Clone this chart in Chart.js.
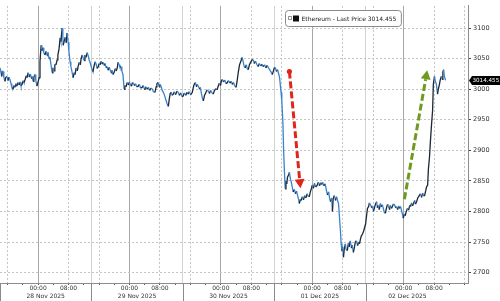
<!DOCTYPE html>
<html>
<head>
<meta charset="utf-8">
<script src="https://cdn.jsdelivr.net/npm/chart.js@4.4.1/dist/chart.umd.min.js"></script>
<style>
  body { margin: 0; background: #fff; }
  #wrap { width: 500px; height: 301px; }
</style>
</head>
<body>
<div id="wrap"><canvas id="ethChart" width="500" height="301"></canvas></div>
<script>
// hours counted from 27 Nov 2025 14:00
var hours = [
    0, 0.3, 0.45, 0.6, 0.8, 1.0, 1.3, 1.5, 1.8, 2.1,
    2.3, 2.6, 2.9, 3.1, 3.4, 3.6, 3.9, 4.2, 4.4, 4.7,
    5.0, 5.3, 5.5, 5.8, 6.1, 6.3, 6.6, 6.9, 7.1, 7.4,
    7.7, 8.0, 8.2, 8.4, 8.7, 8.9, 9.2, 9.4, 9.7, 10.0,
    10.3, 10.5, 10.8, 11.0, 11.3, 11.5, 11.8, 12.1, 12.4, 12.6,
    12.9, 13.1, 13.4, 13.7, 13.9, 14.2, 14.4, 14.7, 15.0, 15.2,
    15.5, 15.8, 16.0, 16.3, 16.5, 16.6, 16.9, 17.1, 17.4, 17.6,
    17.9, 18.1, 18.4, 18.6, 18.9, 19.2, 19.5, 19.7, 20.0, 20.3,
    20.5, 20.8, 21.1, 21.3, 21.6, 21.9, 22.1, 22.3, 22.6, 22.9,
    23.2, 23.4, 23.7, 24.0, 24.2, 24.4, 24.7, 25.0, 25.3, 25.5,
    25.8, 26.0, 26.3, 26.6, 26.8, 27.1, 27.4, 27.6, 27.9, 28.1,
    28.4, 28.7, 28.9, 29.2, 29.4, 29.7, 30.0, 30.3, 30.5, 30.8,
    31.0, 31.3, 31.5, 31.8, 32.0, 32.3, 32.6, 32.8, 33.1, 33.4,
    33.7, 34.0, 34.2, 34.5, 34.8, 35.0, 35.3, 35.6, 35.9, 36.3,
    36.6, 36.9, 37.3, 37.6, 38.0, 38.3, 38.6, 39.0, 39.3, 39.7,
    40.0, 40.3, 40.7, 41.0, 41.2, 41.5, 41.8, 42.0, 42.3, 42.6,
    42.9, 43.2, 43.5, 43.9, 44.2, 44.5, 44.7, 45.0, 45.2, 45.5,
    45.8, 46.1, 46.5, 46.8, 47.1, 47.5, 47.8, 48.1, 48.4, 48.8,
    49.1, 49.4, 49.7, 50.1, 50.5, 50.8, 51.0, 51.3, 51.6, 51.8,
    52.1, 52.4, 52.6, 52.9, 53.2, 53.4, 53.7, 54.0, 54.4, 54.7,
    55.0, 55.3, 55.7, 56.0, 56.3, 56.7, 57.0, 57.3, 57.6, 57.9,
    58.1, 58.4, 58.7, 59.0, 59.4, 59.7, 60.0, 60.4, 60.7, 61.0,
    61.3, 61.6, 62.0, 62.3, 62.6, 62.9, 63.2, 63.6, 63.9, 64.1,
    64.4, 64.7, 64.9, 65.2, 65.5, 65.8, 66.2, 66.5, 66.8, 67.1,
    67.5, 67.8, 68.1, 68.5, 68.8, 69.1, 69.5, 69.8, 70.2, 70.5,
    70.8, 71.2, 71.5, 71.8, 72.1, 72.3, 72.6, 72.9, 73.1, 73.4,
    73.6, 73.8, 74.0, 74.3, 74.5, 74.7, 74.9, 75.1, 75.3, 75.5,
    75.8, 76.0, 76.3, 76.5, 76.8, 77.0, 77.3, 77.6, 77.9, 78.1,
    78.4, 78.6, 78.9, 79.1, 79.4, 79.7, 80.0, 80.3, 80.7, 80.9,
    81.2, 81.5, 81.8, 82.0, 82.3, 82.6, 82.9, 83.3, 83.6, 83.9,
    84.2, 84.5, 84.7, 85.0, 85.4, 85.7, 86.0, 86.3, 86.6, 86.8,
    87.1, 87.3, 87.5, 87.8, 88.1, 88.4, 88.6, 88.9, 89.1, 89.4,
    89.6, 89.8, 90.0, 90.2, 90.4, 90.7, 90.9, 91.2, 91.5, 91.7,
    92.0, 92.3, 92.5, 92.8, 93.1, 93.3, 93.6, 93.9, 94.2, 94.4,
    94.7, 94.9, 95.2, 95.5, 95.8, 96.0, 96.3, 96.5, 96.8, 97.0,
    97.3, 97.6, 97.8, 98.1, 98.4, 98.6, 98.9, 99.1, 99.3, 99.6,
    99.9, 100.1, 100.4, 100.7, 100.9, 101.2, 101.5, 101.8, 102.0, 102.3,
    102.5, 102.8, 103.1, 103.3, 103.6, 103.9, 104.1, 104.4, 104.7, 104.9,
    105.2, 105.5, 105.7, 105.9, 106.2, 106.4, 106.7, 107.0, 107.3, 107.6,
    107.8, 108.1, 108.3, 108.6, 108.9, 109.1, 109.4, 109.7, 110.1, 110.4,
    110.7, 111.0, 111.2, 111.5, 111.8, 112.0, 112.3, 112.5, 112.8, 113.0,
    113.3, 113.6, 113.8, 114.1, 114.3, 114.6, 114.9, 115.1, 115.4, 115.6,
    115.9, 116.1, 116.3, 116.5, 116.7, 117.0];
var prices = [
    3035, 3026, 3021, 3030, 3029, 3020, 3013, 3019, 3021, 3014,
    3020, 3016, 3009, 3004, 3000, 3006, 3003, 3009, 3005, 3011,
    3007, 3012, 3006, 3008, 3014, 3011, 3016, 3022, 3019, 3027,
    3020, 3025, 3018, 3021, 3013, 3020, 3024, 3015, 3005, 3012,
    3019, 3045, 3072, 3063, 3068, 3060, 3056, 3062, 3055, 3060,
    3050, 3052, 3040, 3027, 3035, 3030, 3041, 3040, 3048, 3056,
    3066, 3084, 3078, 3100, 3088, 3072, 3080, 3085, 3076, 3092,
    3077, 3062, 3045, 3038, 3029, 3019, 3027, 3024, 3035, 3030,
    3037, 3044, 3040, 3050, 3056, 3050, 3047, 3056, 3052, 3060,
    3054, 3048, 3043, 3036, 3032, 3029, 3038, 3045, 3040, 3034,
    3037, 3042, 3040, 3046, 3041, 3044, 3039, 3042, 3035, 3037,
    3031, 3036, 3032, 3027, 3031, 3024, 3028, 3034, 3030, 3035,
    3044, 3040, 3036, 3037, 3030, 3024, 3000, 3006, 3004, 3011,
    3007, 3012, 3008, 3005, 3011, 3010, 3006, 3009, 3004, 3005,
    3008, 3002, 3003, 3006, 2999, 3004, 3000, 3003, 2998, 3002,
    3000, 2996, 2995, 3004, 3009, 3011, 3004, 3008, 3005, 2998,
    2995, 2990, 2984, 2976, 2972, 2986, 2993, 2995, 2990, 2992,
    2996, 2991, 2997, 2995, 2990, 2994, 2988, 2989, 2994, 2990,
    2995, 2992, 2996, 2991, 2995, 3004, 3008, 3011, 3004, 3008,
    3005, 3000, 3003, 2993, 2984, 2981, 2990, 2994, 2999, 2997,
    2993, 2998, 2994, 2992, 2998, 3001, 2999, 3005, 3010, 3006,
    3013, 3016, 3012, 3015, 3009, 3011, 3014, 3010, 3013, 3008,
    3011, 3006, 3003, 3015, 3029, 3040, 3045, 3052, 3044, 3038,
    3035, 3040, 3034, 3032, 3040, 3044, 3048, 3048, 3042, 3046,
    3040, 3037, 3042, 3038, 3041, 3037, 3040, 3035, 3039, 3035,
    3032, 3028, 3024, 3030, 3036, 3035, 3029, 3032, 3027, 3020,
    3008, 2995, 2981, 2944, 2896, 2864, 2837, 2850, 2845, 2856,
    2860, 2864, 2852, 2848, 2838, 2832, 2836, 2829, 2833, 2827,
    2820, 2813, 2820, 2818, 2824, 2819, 2826, 2822, 2829, 2825,
    2824, 2832, 2838, 2843, 2838, 2846, 2840, 2843, 2848, 2842,
    2847, 2844, 2848, 2842, 2845, 2835, 2827, 2832, 2820, 2816,
    2822, 2800, 2821, 2826, 2818, 2824, 2819, 2813, 2795, 2768,
    2747, 2735, 2742, 2725, 2738, 2747, 2738, 2736, 2748, 2742,
    2752, 2740, 2745, 2733, 2742, 2750, 2752, 2744, 2750, 2747,
    2756, 2760, 2763, 2768, 2775, 2779, 2795, 2805, 2808, 2814,
    2811, 2806, 2809, 2800, 2808, 2812, 2816, 2806, 2810, 2803,
    2813, 2808, 2811, 2804, 2799, 2797, 2806, 2812, 2808, 2803,
    2810, 2805, 2809, 2812, 2811, 2806, 2808, 2803, 2809, 2805,
    2808, 2800, 2795, 2789, 2796, 2793, 2800, 2805, 2802, 2810,
    2808, 2814, 2809, 2813, 2818, 2812, 2816, 2822, 2826, 2829,
    2823, 2830, 2826, 2826, 2834, 2840, 2843, 2869, 2890, 2912,
    2940, 2965, 3008, 3021, 3014, 3008, 2992, 3000, 3008, 3015,
    3021, 3016, 3028, 3032, 3021, 3014.455];
var yTicks = [2700, 2750, 2800, 2850, 2900, 2950, 3000, 3050, 3100];
var dayLabels = ['28 Nov 2025', '29 Nov 2025', '30 Nov 2025', '01 Dec 2025', '02 Dec 2025'];
var dayLabelHours = [12, 36, 60, 84, 107];
var bandEdges = [0, 24, 48, 72, 96];
var lastPrice = 3014.455;
var seriesName = 'Ethereum - Last Price 3014.455';
var redArrow = [[76.0, 3029], [78.9, 2838]];
var greenArrow = [[106.2, 2820], [112.2, 3031]];

var FONT = 'DejaVu Sans';

function hourOfDay(h) {
    return ((Math.round(h) + 14) % 24 + 24) % 24;
}

// 4h tick marks plus the band separators
var xTickHours = [];
for (var t = 2; t <= 122; t += 4) xTickHours.push(t);
bandEdges.slice(1).forEach(function (b) { xTickHours.push(b); });
xTickHours.sort(function (a, b) { return a - b; });

var points = hours.map(function (h, i) { return { x: h, y: prices[i] }; });

function drawArrow(ctx, x0, y0, x1, y1, color, dot) {
    var ang = Math.atan2(y1 - y0, x1 - x0);
    var headLen = 9, headW = 5;
    var bx = x1 - Math.cos(ang) * headLen;
    var by = y1 - Math.sin(ang) * headLen;
    ctx.save();
    ctx.strokeStyle = color;
    ctx.fillStyle = color;
    ctx.lineWidth = 3;
    ctx.setLineDash([7, 3]);
    ctx.beginPath();
    ctx.moveTo(x0, y0);
    ctx.lineTo(bx, by);
    ctx.stroke();
    ctx.setLineDash([]);
    ctx.beginPath();
    ctx.moveTo(x1, y1);
    ctx.lineTo(bx + Math.sin(ang) * headW, by - Math.cos(ang) * headW);
    ctx.lineTo(bx - Math.sin(ang) * headW, by + Math.cos(ang) * headW);
    ctx.closePath();
    ctx.fill();
    if (dot) {
        ctx.beginPath();
        ctx.arc(x0, y0, 2.6, 0, Math.PI * 2);
        ctx.fill();
    }
    ctx.restore();
}

var extras = {
    id: 'extras',
    afterDraw: function (chart) {
        var ctx = chart.ctx;
        var xs = chart.scales.x, ys = chart.scales.y;
        var area = chart.chartArea;

        // band separators under the axis + date labels
        ctx.save();
        ctx.strokeStyle = '#8a8a8a';
        ctx.lineWidth = 1;
        bandEdges.forEach(function (b) {
            var px = Math.round(xs.getPixelForValue(b)) + 0.5;
            ctx.beginPath();
            ctx.moveTo(px, area.bottom);
            ctx.lineTo(px, chart.height);
            ctx.stroke();
        });
        ctx.fillStyle = '#333';
        ctx.font = '6px "' + FONT + '"';
        ctx.textAlign = 'center';
        ctx.textBaseline = 'middle';
        dayLabels.forEach(function (d, i) {
            ctx.fillText(d, xs.getPixelForValue(dayLabelHours[i]), area.bottom + 13.5);
        });
        ctx.restore();

        // arrows
        drawArrow(ctx, xs.getPixelForValue(redArrow[0][0]), ys.getPixelForValue(redArrow[0][1]),
            xs.getPixelForValue(redArrow[1][0]), ys.getPixelForValue(redArrow[1][1]), '#e0261c', true);
        drawArrow(ctx, xs.getPixelForValue(greenArrow[0][0]), ys.getPixelForValue(greenArrow[0][1]),
            xs.getPixelForValue(greenArrow[1][0]), ys.getPixelForValue(greenArrow[1][1]), '#6f9a1e', false);

        // legend box
        ctx.save();
        ctx.font = '6px "' + FONT + '"';
        var tw = ctx.measureText(seriesName).width;
        var bx = 285.5, by = 10.5, bh = 16;
        ctx.beginPath();
        ctx.roundRect(bx, by, tw + 21, bh, 3);
        ctx.fillStyle = '#fff';
        ctx.fill();
        ctx.strokeStyle = '#8a8a8a';
        ctx.lineWidth = 1;
        ctx.stroke();
        ctx.strokeStyle = '#999';
        ctx.strokeRect(bx + 3, by + 6, 3, 3);
        ctx.fillStyle = '#111';
        ctx.fillRect(bx + 7.5, by + 5, 6, 6);
        ctx.fillStyle = '#222';
        ctx.textBaseline = 'middle';
        ctx.fillText(seriesName, bx + 16, by + bh / 2 + 0.5);
        ctx.restore();

        // last price tag
        var py = ys.getPixelForValue(lastPrice);
        var lx = area.right + 1;
        ctx.save();
        ctx.fillStyle = '#000';
        ctx.beginPath();
        ctx.moveTo(lx, py);
        ctx.lineTo(lx + 3, py - 4.5);
        ctx.lineTo(chart.width, py - 4.5);
        ctx.lineTo(chart.width, py + 4.5);
        ctx.lineTo(lx + 3, py + 4.5);
        ctx.closePath();
        ctx.fill();
        ctx.fillStyle = '#fff';
        ctx.font = '5.6px "' + FONT + '"';
        ctx.textBaseline = 'middle';
        ctx.fillText(lastPrice.toFixed(3), lx + 3.5, py + 0.5);
        ctx.restore();
    }
};

new Chart(document.getElementById('ethChart'), {
    type: 'line',
    data: {
        datasets: [{
            label: seriesName,
            data: points,
            borderWidth: 1.3,
            pointRadius: 0,
            tension: 0,
            borderColor: '#1c2836',
            segment: {
                borderColor: function (c) {
                    return c.p1.parsed.y < c.p0.parsed.y ? '#3b82cc' : '#1c2836';
                }
            }
        }]
    },
    options: {
        responsive: false,
        devicePixelRatio: 1,
        animation: false,
        layout: { padding: 0 },
        plugins: { legend: { display: false }, tooltip: { enabled: false } },
        scales: {
            x: {
                type: 'linear', position: 'bottom', min: 0, max: 122.9,
                afterBuildTicks: function (s) { s.ticks = xTickHours.map(function (v) { return { value: v }; }); },
                afterFit: function (s) { s.height = 18; },
                ticks: {
                    autoSkip: false, maxRotation: 0, padding: 0, color: '#333',
                    font: { family: FONT, size: 6 },
                    callback: function (v) {
                        var hd = hourOfDay(v);
                        return hd === 0 ? '00:00' : (hd === 8 ? '08:00' : '');
                    }
                },
                grid: {
                    lineWidth: 1, tickLength: 2, tickBorderDash: [],
                    color: function (c) {
                        if (!c.tick) return 'rgba(0,0,0,0)';
                        var hd = hourOfDay(c.tick.value);
                        if (hd === 0) return '#a6a6a6';
                        if (hd === 8 || hd === 16) return '#c4c4c4';
                        if (hd === 14) return '#d2d2d2';
                        return 'rgba(0,0,0,0)';
                    },
                    tickColor: function (c) {
                        if (!c.tick) return '#555';
                        return hourOfDay(c.tick.value) === 14 ? 'rgba(0,0,0,0)' : '#555';
                    }
                },
                border: {
                    display: true, color: '#8c8c8c', width: 1,
                    dash: function (c) {
                        if (!c.tick) return [];
                        var hd = hourOfDay(c.tick.value);
                        return (hd === 8 || hd === 16) ? [2, 2] : [];
                    }
                }
            },
            y: {
                type: 'linear', position: 'right', min: 2682.9, max: 3136.4,
                afterBuildTicks: function (s) { s.ticks = yTicks.map(function (v) { return { value: v }; }); },
                afterFit: function (s) { s.width = 32; },
                ticks: {
                    padding: 2, color: '#333', font: { family: FONT, size: 6.5 },
                    callback: function (v) { return String(v); }
                },
                grid: { color: '#c4c4c4', lineWidth: 1, tickLength: 3, tickColor: '#444', tickBorderDash: [] },
                border: { display: true, color: '#8c8c8c', width: 1, dash: [2, 2] }
            }
        }
    },
    plugins: [extras]
});
</script>
</body>
</html>
